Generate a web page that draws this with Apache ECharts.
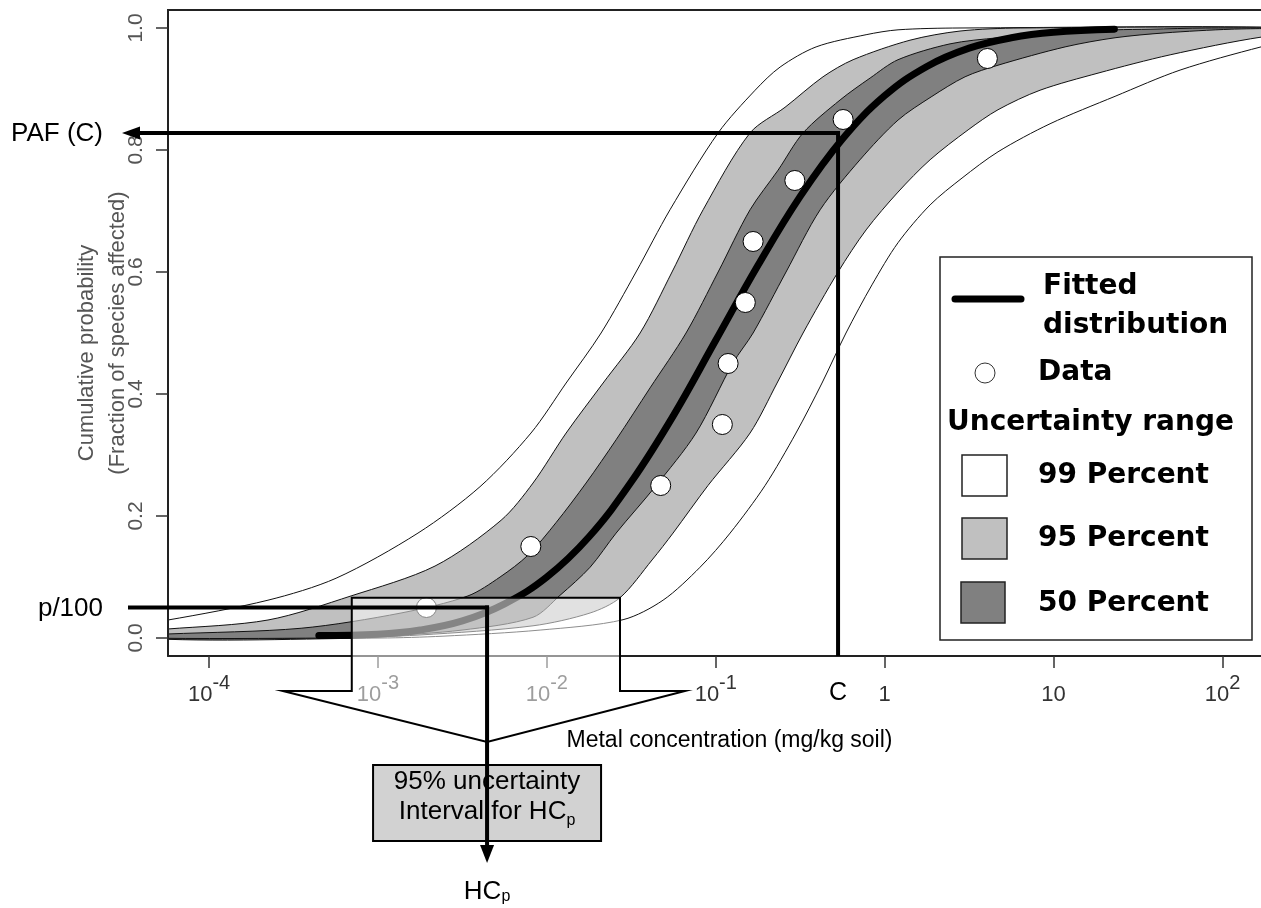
<!DOCTYPE html>
<html><head><meta charset="utf-8">
<script src="https://cdn.jsdelivr.net/npm/echarts@6/dist/echarts.min.js"></script>
<style>html,body{margin:0;padding:0;background:#fff}#c{width:1261px;height:908px}</style>
</head><body><div id="c"></div>
<script>
// ---- data (x values are log10 of metal concentration, mg/kg soil) ----
const xTickExponents = [-4, -3, -2, -1, 0, 1, 2];
const yTickValues = [0, 0.2, 0.4, 0.6, 0.8, 1.0];

const dataLogConc = [-2.713, -2.095, -1.326, -0.961, -0.927, -0.825, -0.779, -0.532, -0.246, 0.608];
const dataProb = [0.05, 0.15, 0.25, 0.35, 0.45, 0.55, 0.65, 0.75, 0.85, 0.95];

const fittedLogConc = [-3.35, -3.0, -2.75, -2.5, -2.25, -2.0, -1.75, -1.5, -1.25, -1.0, -0.75, -0.5, -0.25, 0.0, 0.25, 0.5, 0.75, 1.0, 1.36];
const fittedProb = [0.004, 0.006, 0.013, 0.028, 0.056, 0.100, 0.166, 0.256, 0.365, 0.488, 0.611, 0.724, 0.818, 0.889, 0.937, 0.967, 0.984, 0.993, 0.998];

// band edges, listed from bottom to top: [log10 conc, cumulative probability]
const band99Left = [[-4.4,0],[-4.4,0.026],[-4.243,0.0295],[-3.651,0.062],[-3.248,0.098],[-2.763,0.172],[-2.396,0.248],[-2.094,0.336],[-1.886,0.418],[-1.679,0.5],[-1.472,0.6],[-1.271,0.702],[-0.986,0.828],[-0.767,0.898],[-0.619,0.936],[-0.406,0.969],[-0.11,0.989],[0.079,0.997],[0.446,1.0]];
const band99Right = [[-2.988,0],[-2.615,0.003],[-2.04,0.013],[-1.549,0.03],[-1.312,0.062],[-1.093,0.116],[-0.915,0.172],[-0.708,0.25],[-0.525,0.336],[-0.371,0.418],[-0.229,0.5],[-0.075,0.579],[0.079,0.648],[0.269,0.71],[0.458,0.754],[0.671,0.797],[0.979,0.843],[1.364,0.888],[1.749,0.931],[2.228,0.969],[2.5,0.985],[2.5,1.0]];
const band95Left = [[-4.4,0],[-4.4,0.013],[-4.243,0.0148],[-3.651,0.0295],[-3.159,0.069],[-2.662,0.118],[-2.271,0.193],[-2.082,0.254],[-1.886,0.336],[-1.667,0.418],[-1.448,0.5],[-1.259,0.6],[-1.075,0.702],[-0.797,0.828],[-0.59,0.87],[-0.365,0.92],[-0.187,0.948],[0.15,0.98],[0.446,0.995],[0.802,1.0]];
const band95Right = [[-3.284,0],[-2.751,0.005],[-2.082,0.02],[-1.744,0.041],[-1.567,0.066],[-1.377,0.128],[-1.253,0.172],[-1.046,0.25],[-0.797,0.336],[-0.637,0.418],[-0.483,0.5],[-0.276,0.6],[-0.11,0.669],[0.079,0.731],[0.269,0.784],[0.494,0.833],[0.671,0.866],[0.92,0.898],[1.263,0.926],[1.69,0.956],[2.228,0.985],[2.5,0.99],[2.5,1.0]];
const band50Left = [[-4.4,0],[-4.4,0.005],[-4.243,0.0066],[-3.455,0.016],[-2.863,0.041],[-2.467,0.069],[-2.277,0.1],[-2.111,0.136],[-1.946,0.189],[-1.768,0.254],[-1.59,0.325],[-1.389,0.41],[-1.176,0.5],[-0.986,0.6],[-0.797,0.702],[-0.631,0.767],[-0.483,0.828],[-0.264,0.882],[-0.086,0.918],[0.079,0.948],[0.387,0.974],[0.671,0.984],[1.038,0.992],[1.364,0.997],[1.571,0.998],[1.9,1.0]];
const band50Right = [[-3.3,0],[-2.988,0.003],[-2.502,0.013],[-2.082,0.034],[-1.922,0.07],[-1.744,0.116],[-1.59,0.172],[-1.359,0.248],[-1.117,0.336],[-0.898,0.451],[-0.779,0.5],[-0.584,0.6],[-0.382,0.702],[-0.146,0.784],[0.079,0.849],[0.275,0.887],[0.476,0.92],[0.671,0.939],[1.068,0.969],[1.364,0.984],[1.66,0.992],[2.051,0.998],[2.5,1.0]];

const pafPoint = [-0.276, 0.828];      // [log10 C, PAF(C)]
const hcpPoint = [-2.354, 0.05];       // [log10 HCp, p/100]
const hcpInterval95 = [-3.155, -1.567];
const calloutTopProb = 0.066;

// ---- chart ----
const FONT = 'Liberation Sans, Arial, sans-serif';
const X_MIN = -4.243, X_MAX = 2.228, Y_MIN = -0.0295, Y_MAX = 1.0295;
const chart = echarts.init(document.getElementById('c'), null, {renderer: 'canvas'});

function bandSeries(name, left, right, fill) {
  const pts = left.concat(right.slice().reverse());
  return {
    type: 'custom', name: name, clip: true, silent: true, z: 2,
    data: [[0, 0]],
    renderItem: function (params, api) {
      return {
        type: 'polygon',
        shape: { points: pts.map(function (p) { return api.coord(p); }), smooth: 0.3 },
        style: { fill: fill, stroke: '#111', lineWidth: 1 }
      };
    }
  };
}

function zip(a, b) { return a.map(function (v, i) { return [v, b[i]]; }); }

const option = {
  animation: false,
  textStyle: { fontFamily: FONT },
  grid: { left: 168, top: 10, right: 0, bottom: 252, show: false },
  xAxis: {
    type: 'value', min: X_MIN, max: X_MAX, z: 10,
    axisLine: { show: true, onZero: false, lineStyle: { color: '#222', width: 2 } }, splitLine: { show: false },
    axisTick: { customValues: xTickExponents, length: 12, lineStyle: { color: '#333', width: 1.5 } },
    axisLabel: {
      customValues: xTickExponents, margin: 17, color: '#333',
      formatter: function (v) {
        if (v === 0) return '{b|1}';
        if (v === 1) return '{b|10}';
        return '{b|10}{s|' + v + '}';
      },
      rich: {
        b: { fontSize: 22, lineHeight: 33, verticalAlign: 'bottom', color: '#333', fontFamily: FONT },
        s: { fontSize: 20, lineHeight: 20, verticalAlign: 'top', color: '#333', fontFamily: FONT }
      }
    },
    name: 'Metal concentration (mg/kg soil)', nameLocation: 'middle', nameGap: 73,
    nameTextStyle: { fontSize: 23, color: '#000', padding: [0, 0, 0, 30], fontFamily: FONT }
  },
  yAxis: {
    type: 'value', min: Y_MIN, max: Y_MAX, z: 10,
    axisLine: { show: true, onZero: false, lineStyle: { color: '#222', width: 2 } }, splitLine: { show: false },
    axisTick: { customValues: yTickValues, length: 12, lineStyle: { color: '#333', width: 1.5 } },
    axisLabel: {
      customValues: yTickValues, rotate: 90, margin: 21, fontSize: 21, color: '#555',
      formatter: function (v) { return v.toFixed(1); }
    }
  },
  series: [
    bandSeries('99 Percent', band99Left, band99Right, '#ffffff'),
    bandSeries('95 Percent', band95Left, band95Right, '#c0c0c0'),
    bandSeries('50 Percent', band50Left, band50Right, '#808080'),
    {
      type: 'line', name: 'Fitted distribution', data: zip(fittedLogConc, fittedProb),
      smooth: 0.4, symbol: 'none', z: 3,
      lineStyle: { color: '#000', width: 7, cap: 'round' }
    },
    {
      type: 'scatter', name: 'Data', data: zip(dataLogConc, dataProb),
      symbol: 'circle', symbolSize: 20, z: 4,
      itemStyle: { color: '#fff', borderColor: '#000', borderWidth: 1, opacity: 1 }
    }
  ]
};
chart.setOption(option);

// ---- annotations positioned through the chart's own scales ----
function toPx(p) { return chart.convertToPixel({ gridIndex: 0 }, p); }
const c = toPx(pafPoint), h = toPx(hcpPoint);
const axisY = toPx([0, Y_MIN])[1];
const topLeft = toPx([X_MIN, Y_MAX]), topRight = toPx([X_MAX, Y_MAX]);
const il = toPx([hcpInterval95[0], 0])[0], ir = toPx([hcpInterval95[1], 0])[0];
const boxTop = toPx([0, calloutTopProb])[1];
const wingY = axisY + 35, apexY = axisY + 86;

const T = function (txt, x, y, opt) {
  return { type: 'text', x: x, y: y, z: 120,
    style: Object.assign({ text: txt, font: '26px ' + FONT, fill: '#000', align: 'center', verticalAlign: 'middle' }, opt || {}) };
};
const LEGF = 'bold 28px "DejaVu Sans", sans-serif';

chart.setOption({
  graphic: [
    // top frame line of the plot box
    { type: 'line', z: 90, silent: true, shape: { x1: topLeft[0] - 1, y1: topLeft[1], x2: topRight[0] + 2, y2: topRight[1] },
      style: { stroke: '#222', lineWidth: 2 } },
    // callout overlay showing the 95% interval of HCp
    { type: 'polygon', z: 100, silent: true,
      shape: { points: [[il, boxTop], [ir, boxTop], [ir, wingY], [ir + 65, wingY], [h[0], apexY], [il - 69, wingY], [il, wingY]] },
      style: { fill: 'rgba(255,255,255,0.52)', stroke: '#000', lineWidth: 2 } },
    // box
    { type: 'rect', z: 105, shape: { x: h[0] - 114, y: 765, width: 228, height: 76 },
      style: { fill: '#d2d2d2', stroke: '#000', lineWidth: 2 } },
    { type: 'text', z: 106, x: h[0], y: 799,
      style: { text: '{a|95% uncertainty}\n{a|Interval for HC}{b|p}', align: 'center', verticalAlign: 'middle',
        rich: { a: { fontSize: 26, lineHeight: 30, fontFamily: FONT, verticalAlign: 'top' },
                b: { fontSize: 16, lineHeight: 12, fontFamily: FONT, verticalAlign: 'bottom' } } } },
    // PAF(C) lines
    { type: 'line', z: 110, shape: { x1: c[0], y1: c[1], x2: 136, y2: c[1] }, style: { stroke: '#000', lineWidth: 4 } },
    { type: 'polygon', z: 110, shape: { points: [[122, c[1]], [140, c[1] - 6.5], [140, c[1] + 6.5]] }, style: { fill: '#000' } },
    { type: 'line', z: 110, shape: { x1: c[0], y1: c[1] - 2, x2: c[0], y2: axisY }, style: { stroke: '#000', lineWidth: 4 } },
    // p/100 -> HCp lines
    { type: 'line', z: 110, shape: { x1: 128, y1: h[1], x2: h[0] + 2, y2: h[1] }, style: { stroke: '#000', lineWidth: 4 } },
    { type: 'line', z: 110, shape: { x1: h[0], y1: h[1] - 2, x2: h[0], y2: 848 }, style: { stroke: '#000', lineWidth: 4 } },
    { type: 'polygon', z: 110, shape: { points: [[h[0], 863], [h[0] - 7, 845], [h[0] + 7, 845]] }, style: { fill: '#000' } },
    // labels
    T('PAF (C)', 103, c[1] + 1, { align: 'right' }),
    T('p/100', 103, h[1] + 1, { align: 'right' }),
    T('C', c[0], 693, { font: '25px ' + FONT }),
    { type: 'text', z: 120, x: h[0], y: 892,
      style: { text: '{a|HC}{b|p}', align: 'center', verticalAlign: 'middle',
        rich: { a: { fontSize: 26, lineHeight: 26, fontFamily: FONT, verticalAlign: 'top' },
                b: { fontSize: 16, lineHeight: 12, fontFamily: FONT, verticalAlign: 'bottom' } } } },
    // y axis title
    { type: 'text', z: 120, x: 87, y: 353, rotation: Math.PI / 2,
      style: { text: 'Cumulative probability', font: '22px ' + FONT, fill: '#555', align: 'center', verticalAlign: 'middle' } },
    { type: 'text', z: 120, x: 118, y: 333, rotation: Math.PI / 2,
      style: { text: '(Fraction of species affected)', font: '22px ' + FONT, fill: '#555', align: 'center', verticalAlign: 'middle' } },
    // legend
    { type: 'group', z: 50, children: [
      { type: 'rect', z: 50, shape: { x: 940, y: 257, width: 312, height: 383 }, style: { fill: '#fff', stroke: '#222', lineWidth: 1.5 } },
      { type: 'line', z: 51, shape: { x1: 955, y1: 299, x2: 1021, y2: 299 }, style: { stroke: '#000', lineWidth: 7, lineCap: 'round' } },
      { type: 'text', z: 51, x: 1043, y: 287, style: { text: 'Fitted', font: LEGF, fill: '#000', verticalAlign: 'middle' } },
      { type: 'text', z: 51, x: 1043, y: 326, style: { text: 'distribution', font: LEGF, fill: '#000', verticalAlign: 'middle' } },
      { type: 'circle', z: 51, shape: { cx: 985, cy: 373, r: 10 }, style: { fill: '#fff', stroke: '#333', lineWidth: 1 } },
      { type: 'text', z: 51, x: 1038, y: 373, style: { text: 'Data', font: LEGF, fill: '#000', verticalAlign: 'middle' } },
      { type: 'text', z: 51, x: 947, y: 423, style: { text: 'Uncertainty range', font: LEGF, fill: '#000', verticalAlign: 'middle' } },
      { type: 'rect', z: 51, shape: { x: 962, y: 455, width: 45, height: 41 }, style: { fill: '#fff', stroke: '#222', lineWidth: 1.5 } },
      { type: 'text', z: 51, x: 1038, y: 476, style: { text: '99 Percent', font: LEGF, fill: '#000', verticalAlign: 'middle' } },
      { type: 'rect', z: 51, shape: { x: 962, y: 518, width: 45, height: 41 }, style: { fill: '#c0c0c0', stroke: '#222', lineWidth: 1.5 } },
      { type: 'text', z: 51, x: 1038, y: 539, style: { text: '95 Percent', font: LEGF, fill: '#000', verticalAlign: 'middle' } },
      { type: 'rect', z: 51, shape: { x: 961, y: 582, width: 44, height: 41 }, style: { fill: '#808080', stroke: '#222', lineWidth: 1.5 } },
      { type: 'text', z: 51, x: 1038, y: 604, style: { text: '50 Percent', font: LEGF, fill: '#000', verticalAlign: 'middle' } }
    ] }
  ]
});
</script>
</body></html>
